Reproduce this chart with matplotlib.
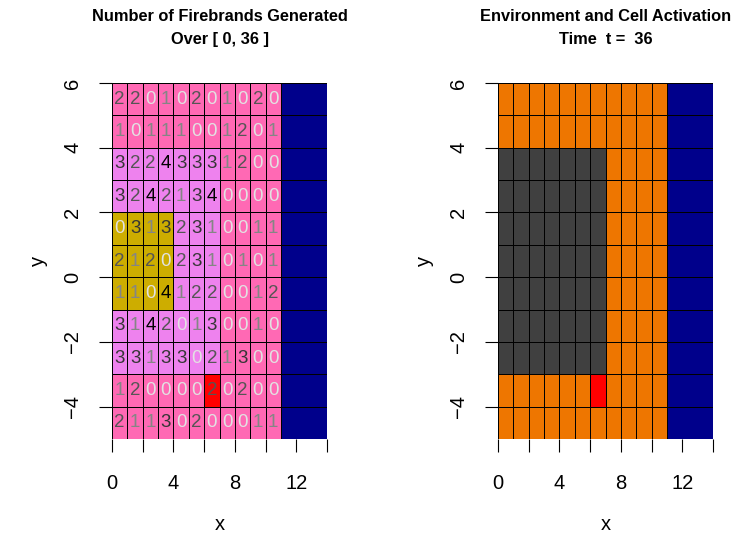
import numpy as np
import matplotlib
matplotlib.use("Agg")
import matplotlib.pyplot as plt
from matplotlib.colors import ListedColormap

# firebrand counts per cell, rows from top (y=5) to bottom (y=-5)
counts = [
    [2, 2, 0, 1, 0, 2, 0, 1, 0, 2, 0],
    [1, 0, 1, 1, 1, 0, 0, 1, 2, 0, 1],
    [3, 2, 2, 4, 3, 3, 3, 1, 2, 0, 0],
    [3, 2, 4, 2, 1, 3, 4, 0, 0, 0, 0],
    [0, 3, 1, 3, 2, 3, 1, 0, 0, 1, 1],
    [2, 1, 2, 0, 2, 3, 1, 0, 1, 0, 1],
    [1, 1, 0, 4, 1, 2, 2, 0, 0, 1, 2],
    [3, 1, 4, 2, 0, 1, 3, 0, 0, 1, 0],
    [3, 3, 1, 3, 3, 0, 2, 1, 3, 0, 0],
    [1, 2, 0, 0, 0, 0, 2, 0, 2, 0, 0],
    [2, 1, 1, 3, 0, 2, 0, 0, 0, 1, 1],
]

# left panel state: 0 pink, 1 violet, 2 gold, 3 red, 4 water
left_state = [
    [0, 0, 0, 0, 0, 0, 0, 0, 0, 0, 0, 4],
    [0, 0, 0, 0, 0, 0, 0, 0, 0, 0, 0, 4],
    [1, 1, 1, 1, 1, 1, 1, 0, 0, 0, 0, 4],
    [1, 1, 1, 1, 1, 1, 1, 0, 0, 0, 0, 4],
    [2, 2, 2, 2, 1, 1, 1, 0, 0, 0, 0, 4],
    [2, 2, 2, 2, 1, 1, 1, 0, 0, 0, 0, 4],
    [2, 2, 2, 2, 1, 1, 1, 0, 0, 0, 0, 4],
    [1, 1, 1, 1, 1, 1, 1, 0, 0, 0, 0, 4],
    [1, 1, 1, 1, 1, 1, 1, 0, 0, 0, 0, 4],
    [0, 0, 0, 0, 0, 0, 3, 0, 0, 0, 0, 4],
    [0, 0, 0, 0, 0, 0, 0, 0, 0, 0, 0, 4],
]

# right panel state: 0 orange, 1 burnt, 3 red, 4 water
right_state = [
    [0, 0, 0, 0, 0, 0, 0, 0, 0, 0, 0, 4],
    [0, 0, 0, 0, 0, 0, 0, 0, 0, 0, 0, 4],
    [1, 1, 1, 1, 1, 1, 1, 0, 0, 0, 0, 4],
    [1, 1, 1, 1, 1, 1, 1, 0, 0, 0, 0, 4],
    [1, 1, 1, 1, 1, 1, 1, 0, 0, 0, 0, 4],
    [1, 1, 1, 1, 1, 1, 1, 0, 0, 0, 0, 4],
    [1, 1, 1, 1, 1, 1, 1, 0, 0, 0, 0, 4],
    [1, 1, 1, 1, 1, 1, 1, 0, 0, 0, 0, 4],
    [1, 1, 1, 1, 1, 1, 1, 0, 0, 0, 0, 4],
    [0, 0, 0, 0, 0, 0, 3, 0, 0, 0, 0, 4],
    [0, 0, 0, 0, 0, 0, 0, 0, 0, 0, 0, 4],
]

x_edges = [0, 1, 2, 3, 4, 5, 6, 7, 8, 9, 10, 11, 14]
y_edges = [-5, -4, -3, -2, -1, 0, 1, 2, 3, 4, 5, 6]
x_ticks = [0, 2, 4, 6, 8, 10, 12, 14]
x_ticklabels = ["0", "", "4", "", "8", "", "12", ""]
y_ticks = [-4, -2, 0, 2, 4, 6]

left_cols = ["#FF69B4", "#EE82EE", "#CDAD00", "#FF0000", "#00008B"]
right_cols = ["#EE7600", "#404040", "#404040", "#FF0000", "#00008B"]
txt_cols = ["#E2E2E2", "#858585", "#555555", "#353535", "#000000"]

titles = ["Number of Firebrands Generated\nOver [ 0, 36 ]",
          "Environment and Cell Activation\nTime  t =  36"]

fig = plt.figure(figsize=(7.51, 5.38), dpi=100)
ax1 = fig.add_axes([112/751, 1-439/538, 215/751, 356/538])
ax2 = fig.add_axes([498/751, 1-439/538, 215/751, 356/538])

for ax, st, cols in [(ax1, left_state, left_cols), (ax2, right_state, right_cols)]:
    z = np.array(st)[::-1]
    ax.pcolormesh(x_edges, y_edges, z, cmap=ListedColormap(cols), vmin=-0.5, vmax=4.5,
                  edgecolors="black", linewidth=0.6)
    ax.set_xlim(0, 14)
    ax.set_ylim(-5, 6)
    for s in ax.spines.values():
        s.set_visible(False)
    ax.set_xticks(x_ticks)
    ax.set_xticklabels(x_ticklabels, fontsize=14.5, family="Liberation Sans")
    ax.set_yticks(y_ticks)
    ax.set_yticklabels([str(v).replace("-", "\u2212") for v in y_ticks], fontsize=14.5,
                       family="Liberation Sans", rotation=90, va="center")
    ax.tick_params(length=9.5, width=0.8)
    ax.tick_params(axis="x", pad=15.5)
    ax.tick_params(axis="y", pad=12)
    ax.set_xlabel("x", fontsize=14.5, family="Liberation Sans", labelpad=16)
    ax.set_ylabel("y", fontsize=14.5, family="Liberation Sans", labelpad=11)

# counts in the left panel
for i, row in enumerate(counts):
    yc = 5.5 - i
    for j, v in enumerate(row):
        ax1.text(j + 0.5, yc, str(v), ha="center", va="center", fontsize=13.5,
                 color=txt_cols[v], family="Liberation Sans")

for ax, t in [(ax1, titles[0]), (ax2, titles[1])]:
    pos = ax.get_position()
    fig.text((pos.x0 + pos.x1) / 2, 1 - 9/538, t, ha="center", va="top", fontsize=11.8,
             fontweight="bold", family=["Liberation Sans Narrow", "Liberation Sans"],
             linespacing=1.65)

fig.savefig("out.png", dpi=100)
